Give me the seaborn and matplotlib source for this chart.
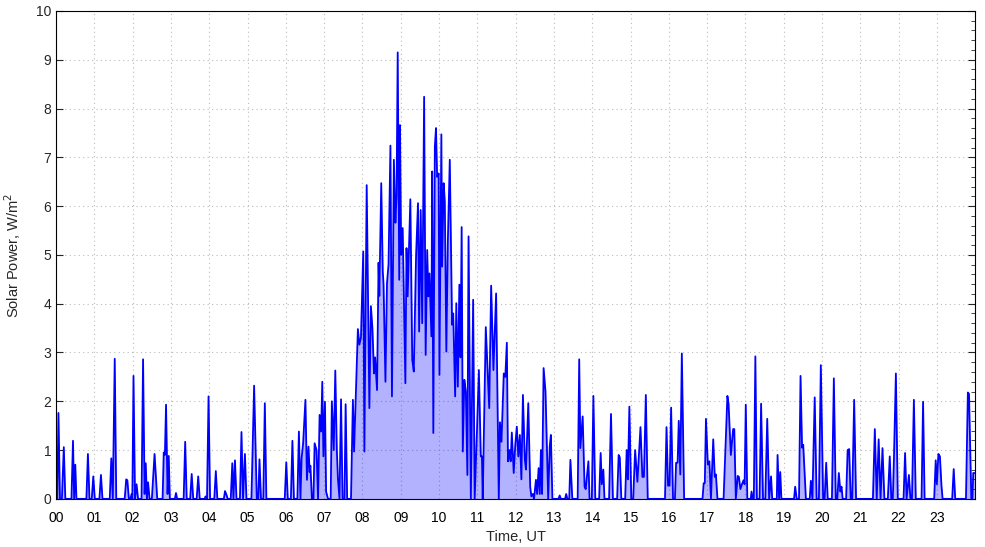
import numpy as np
import pandas as pd
import matplotlib
matplotlib.use("Agg")
import matplotlib.pyplot as plt
import seaborn as sns
from matplotlib.ticker import MultipleLocator

# vertices of the solar power trace (time in hours UT, power in W/m2)
time_h = [
    0.00, 0.03, 0.06, 0.10, 0.15, 0.20, 0.24, 0.40, 0.44, 0.47, 0.50, 0.53, 0.79, 0.83, 0.87, 0.93, 0.97, 1.01,
    1.13, 1.17, 1.21, 1.40, 1.44, 1.48, 1.53, 1.57, 1.79, 1.83, 1.86, 1.90, 1.94, 1.97, 1.99,
    2.02, 2.06, 2.10, 2.14, 2.23, 2.27, 2.31, 2.34, 2.37, 2.40, 2.44, 2.50, 2.57, 2.64, 2.78, 2.81, 2.84, 2.87,
    2.91, 2.94, 2.97,
    3.10, 3.13, 3.16, 3.33, 3.37, 3.41, 3.50, 3.54, 3.58, 3.67, 3.71, 3.75, 3.88, 3.90, 3.94, 3.98,
    4.02, 4.13, 4.17, 4.21, 4.38, 4.41, 4.45, 4.48, 4.56, 4.60, 4.63, 4.67, 4.71, 4.80, 4.84, 4.88, 4.93, 4.97,
    5.10, 5.17, 5.24, 5.28, 5.31, 5.35, 5.41, 5.45, 5.49, 5.97,
    6.01, 6.05, 6.13, 6.17, 6.21, 6.30, 6.34, 6.38, 6.41, 6.45, 6.51, 6.55, 6.59, 6.62, 6.64, 6.68, 6.72, 6.75,
    6.80, 6.84, 6.88, 6.92, 6.95, 6.98,
    7.02, 7.05, 7.10, 7.17, 7.20, 7.25, 7.29, 7.33, 7.36, 7.40, 7.44, 7.48, 7.53, 7.56, 7.60, 7.70, 7.75, 7.78,
    7.88, 7.92, 7.96,
    8.02, 8.05, 8.11, 8.18, 8.22, 8.26, 8.30, 8.33, 8.38, 8.42, 8.44, 8.49, 8.53, 8.55, 8.60, 8.64, 8.68, 8.73,
    8.77, 8.82, 8.86, 8.89, 8.92, 8.96, 8.98,
    9.01, 9.05, 9.12, 9.15, 9.18, 9.25, 9.30, 9.34, 9.40, 9.45, 9.48, 9.52, 9.56, 9.61, 9.65, 9.69, 9.72, 9.75,
    9.80, 9.82, 9.85, 9.89, 9.92, 9.95, 9.99,
    10.01, 10.06, 10.08, 10.12, 10.15, 10.19, 10.23, 10.28, 10.34, 10.37, 10.42, 10.45, 10.49, 10.53, 10.56,
    10.59, 10.62, 10.66, 10.70, 10.74, 10.77, 10.83, 10.89, 10.93, 10.99,
    11.04, 11.09, 11.12, 11.14, 11.22, 11.31, 11.36, 11.42, 11.49, 11.56, 11.59, 11.63, 11.69, 11.73, 11.77,
    11.80, 11.84, 11.87, 11.90, 11.95, 11.99,
    12.03, 12.07, 12.11, 12.15, 12.19, 12.24, 12.27, 12.33, 12.38, 12.41, 12.45, 12.48, 12.53, 12.56, 12.60,
    12.63, 12.66, 12.69, 12.73, 12.78, 12.85, 12.89, 12.92, 12.96,
    13.12, 13.15, 13.18, 13.29, 13.32, 13.35, 13.40, 13.43, 13.48, 13.62, 13.66, 13.69, 13.75, 13.80, 13.83,
    13.90, 13.93, 13.99,
    14.03, 14.08, 14.18, 14.22, 14.25, 14.29, 14.32, 14.44, 14.49, 14.54, 14.65, 14.69, 14.72, 14.76, 14.86,
    14.90, 14.93, 14.97,
    15.02, 15.07, 15.12, 15.18, 15.26, 15.31, 15.35, 15.40, 15.45, 15.90, 15.94, 15.98,
    16.02, 16.06, 16.11, 16.16, 16.19, 16.23, 16.26, 16.30, 16.34, 16.40, 16.88, 16.91, 16.94, 16.97,
    17.02, 17.06, 17.10, 17.16, 17.20, 17.23, 17.27, 17.43, 17.53, 17.56, 17.62, 17.68, 17.71, 17.75, 17.80,
    17.83, 17.87, 17.91, 17.95, 17.98,
    18.01, 18.05, 18.14, 18.16, 18.19, 18.22, 18.26, 18.30, 18.37, 18.41, 18.46, 18.52, 18.57, 18.62, 18.67,
    18.70, 18.82, 18.84, 18.88, 18.91, 18.94,
    19.27, 19.30, 19.34, 19.40, 19.44, 19.48, 19.51, 19.55, 19.58, 19.68, 19.71, 19.75, 19.81, 19.86, 19.92,
    19.97,
    20.03, 20.07, 20.11, 20.15, 20.26, 20.31, 20.36, 20.40, 20.44, 20.48, 20.51, 20.54, 20.63, 20.67, 20.71,
    20.75, 20.79, 20.84, 20.89,
    21.33, 21.38, 21.43, 21.48, 21.53, 21.58, 21.63, 21.72, 21.77, 21.81, 21.85, 21.88, 21.93, 21.98,
    22.13, 22.17, 22.21, 22.27, 22.31, 22.35, 22.40, 22.45, 22.60, 22.64, 22.68, 22.93, 22.97,
    23.00, 23.04, 23.08, 23.12, 23.15, 23.40, 23.44, 23.48, 23.76, 23.81, 23.84, 23.90, 23.93, 23.95, 23.98,
]
power = [
    0.00, 0.00, 1.76, 0.00, 0.00, 1.06, 0.00, 0.00, 1.19, 0.00, 0.70, 0.00, 0.00, 0.92, 0.00, 0.00, 0.46, 0.00,
    0.00, 0.49, 0.00, 0.00, 0.83, 0.00, 2.87, 0.00, 0.00, 0.40, 0.38, 0.00, 0.00, 0.10, 0.00,
    2.52, 0.00, 0.30, 0.00, 0.00, 2.86, 0.10, 0.73, 0.00, 0.34, 0.00, 0.00, 0.92, 0.00, 0.00, 0.95, 0.90, 1.93,
    0.10, 0.88, 0.00,
    0.00, 0.12, 0.00, 0.00, 1.17, 0.00, 0.00, 0.51, 0.00, 0.00, 0.46, 0.00, 0.00, 0.05, 0.00, 2.10,
    0.00, 0.00, 0.57, 0.00, 0.00, 0.16, 0.08, 0.00, 0.00, 0.73, 0.00, 0.79, 0.00, 0.00, 1.37, 0.00, 0.92, 0.00,
    0.00, 2.32, 0.00, 0.00, 0.81, 0.00, 0.00, 1.96, 0.00, 0.00,
    0.75, 0.00, 0.00, 1.19, 0.00, 0.00, 1.38, 0.00, 0.83, 1.14, 2.03, 0.39, 1.07, 0.55, 0.68, 0.00, 0.00, 1.14,
    1.00, 0.00, 1.72, 1.38, 2.40, 0.87,
    1.99, 0.15, 0.00, 0.00, 2.00, 1.00, 2.63, 1.00, 0.40, 0.00, 2.04, 0.00, 0.00, 1.94, 0.00, 0.00, 2.03, 0.97,
    3.48, 3.16, 3.30,
    5.07, 0.97, 6.43, 1.86, 3.95, 3.50, 2.57, 2.90, 2.23, 4.84, 4.16, 6.47, 4.66, 4.40, 2.40, 4.42, 4.80, 7.24,
    2.10, 6.95, 5.66, 6.20, 9.15, 4.49, 7.66,
    5.00, 5.55, 2.37, 5.14, 4.15, 6.14, 2.85, 2.61, 5.00, 6.06, 3.43, 5.92, 3.60, 8.24, 2.95, 5.10, 4.15, 4.62,
    3.33, 6.71, 1.35, 7.22, 7.60, 6.60, 6.67,
    2.54, 7.47, 4.76, 6.47, 6.10, 3.02, 5.30, 6.95, 3.57, 3.80, 2.10, 4.01, 2.30, 4.39, 2.90,
    5.57, 0.97, 2.44, 2.20, 0.49, 5.38, 0.00, 4.08, 0.00, 1.40,
    2.64, 0.87, 0.87, 0.00, 3.52, 1.86, 4.37, 2.64, 4.21, 0.00, 1.57, 1.17, 2.57, 2.50, 3.20,
    0.77, 1.00, 0.77, 1.36, 0.53, 1.10,
    1.48, 0.87, 1.31, 0.40, 2.13, 0.80, 0.60, 1.96, 0.25, 0.05, 0.10, 0.00, 0.39, 0.10, 0.63,
    0.10, 1.00, 0.10, 2.68, 2.20, 0.00, 1.07, 1.31, 0.00,
    0.00, 0.07, 0.00, 0.00, 0.10, 0.00, 0.00, 0.80, 0.00, 0.00, 2.86, 1.04, 1.69, 0.25, 0.20,
    0.77, 0.00, 0.00,
    2.11, 0.00, 0.00, 0.94, 0.30, 0.60, 0.00, 0.00, 1.74, 0.00, 0.00, 0.90, 0.85, 0.00, 0.00,
    1.00, 0.40, 1.89,
    0.00, 0.00, 1.00, 0.35, 1.47, 0.45, 0.45, 2.13, 0.00, 0.00, 1.47, 0.27,
    0.27, 1.87, 0.00, 0.00, 0.74, 0.74, 1.60, 0.50, 2.98, 0.00, 0.00, 0.32, 0.32, 1.64,
    0.70, 0.77, 0.00, 1.22, 0.45, 0.50, 0.00, 0.00, 2.11, 1.95, 0.90, 1.43, 1.43, 0.00, 0.47,
    0.45, 0.20, 0.30, 0.38, 0.30,
    1.93, 0.00, 0.00, 0.15, 0.00, 0.00, 2.92, 0.00, 0.00, 1.95, 0.00, 0.00, 1.64, 0.00, 0.46,
    0.00, 0.00, 0.90, 0.00, 0.55, 0.00,
    0.00, 0.25, 0.00, 0.00, 2.52, 1.05, 1.11, 0.50, 0.00, 0.00, 0.37, 0.00, 2.08, 0.00, 0.00,
    2.74,
    0.00, 0.00, 0.74, 0.00, 0.00, 2.47, 0.00, 0.00, 0.53, 0.15, 0.25, 0.00, 0.00, 1.00, 1.02,
    0.00, 0.00, 2.03, 0.00,
    0.00, 1.43, 0.00, 1.22, 0.00, 1.04, 0.00, 0.00, 0.87, 0.00, 0.00, 0.85, 2.57, 0.00,
    0.00, 0.94, 0.00, 0.49, 0.00, 0.00, 2.03, 0.00, 0.00, 1.99, 0.00, 0.00, 0.79,
    0.30, 0.92, 0.87, 0.28, 0.00, 0.00, 0.61, 0.00, 0.00, 2.18, 2.15, 0.00, 0.00, 0.53, 0.53,
]
hour_labels = ["%02d" % h for h in range(24)]

df = pd.DataFrame({"time": time_h, "power": power})

sns.set_style("white")
plt.rcParams["font.family"] = ["Liberation Sans", "DejaVu Sans"]

fig = plt.figure(figsize=(9.85, 5.47), dpi=100)
ax = fig.add_axes([0.057, 0.088, 0.933, 0.892])

ax.fill_between(df["time"], 0, df["power"], color="blue", alpha=0.3, linewidth=0)
sns.lineplot(data=df, x="time", y="power", ax=ax, color="blue", linewidth=1.3, sort=False)

ax.set_xlim(0, 24)
ax.set_ylim(0, 10)
ax.set_xticks(range(24))
ax.set_xticklabels(hour_labels)
ax.set_yticks(range(11))
ax.yaxis.set_minor_locator(MultipleLocator(0.2))
ax.grid(True, which="major", linestyle=(0, (1, 3)), color="#bbbbbb", linewidth=0.8)

for s in ax.spines.values():
    s.set_color("black")
    s.set_linewidth(0.8)

ax.tick_params(axis="x", which="major", direction="out", length=5, width=0.8, labelsize=10, colors="black")
ax.tick_params(axis="y", which="major", direction="in", length=5, width=0.8, right=True, left=True, labelsize=10)
ax.tick_params(axis="y", which="minor", direction="in", length=3, width=0.6, right=True, left=False)

ax.set_xlabel("Time, UT", fontsize=10.5)
ax.set_ylabel("Solar Power, W/m$^2$", fontsize=10.5, labelpad=9)

fig.savefig("out.png", dpi=100)
